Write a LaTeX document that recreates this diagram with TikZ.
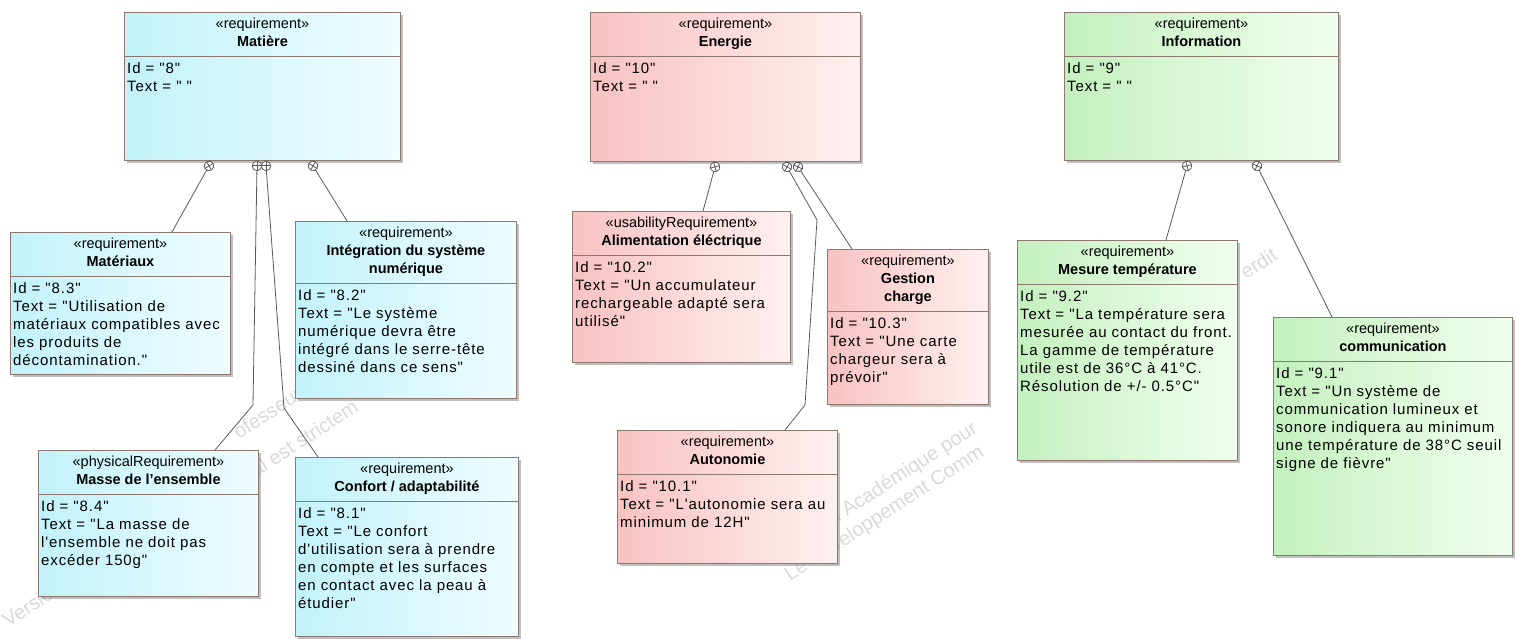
\documentclass[tikz,border=0pt]{standalone}
\usepackage{fontspec}
\setmainfont{Liberation Sans}
\newfontfamily\bodyfont{Liberation Sans}[LetterSpace=6]
\usetikzlibrary{calc,shadows}
\definecolor{cyL}{RGB}{194,242,250}
\definecolor{cyR}{RGB}{238,253,255}
\definecolor{pkL}{RGB}{248,194,194}
\definecolor{pkR}{RGB}{255,240,240}
\definecolor{gnL}{RGB}{196,240,190}
\definecolor{gnR}{RGB}{240,255,238}
\definecolor{bord}{RGB}{140,120,110}
\definecolor{lnc}{RGB}{90,90,90}
\tikzset{
  req/.style={draw=bord, line width=0.9pt, inner sep=0pt,
    drop shadow={shadow xshift=3pt, shadow yshift=-3pt, fill=black!50, opacity=0.5}},
  reqcyan/.style={req, left color=cyL, right color=cyR},
  reqpink/.style={req, left color=pkL, right color=pkR},
  reqgreen/.style={req, left color=gnL, right color=gnR},
  bordline/.style={draw=bord, line width=0.9pt},
  head/.style={align=center, inner sep=0pt, font=\fontsize{14.5}{18}\selectfont},
  body/.style={align=left, inner sep=0pt, font=\bodyfont\fontsize{15}{18}\selectfont},
  conn/.style={draw=lnc, line width=0.8pt},
  wm/.style={text=black!15, font=\fontsize{20}{24}\selectfont, rotate=33, inner sep=0pt, anchor=base west},
  contain/.pic={
    \draw[conn, fill=white] (0,0) circle[radius=4.8pt];
    \draw[conn] (-4.8pt,0) -- (4.8pt,0) (0,-4.8pt) -- (0,4.8pt);
  }
}
% #1 name, #2 style, #3 top-left, #4 width, #5 height, #6 separator offset, #7 stereotype, #8 title, #9 body
\newcommand{\reqbox}[9]{%
  \node[#2, minimum width=#4, minimum height=#5, anchor=north west] (#1) at (#3) {};
  \draw[bordline] ($(#1.north west)+(0,#6)$) -- ($(#1.north east)+(0,#6)$);
  \node[head, anchor=north] (#1-h) at ($(#1.north)+(0,5.5)$) {#7\\#8};
  \node[body, anchor=north west] (#1-b) at ($(#1.north west)+(3,#6+6)$) {#9};
}
\begin{document}
\begin{tikzpicture}[x=1pt,y=-1pt]
\fill[white] (0,0) rectangle (1522,639);
\useasboundingbox (0,0) rectangle (1522,639);

% watermark fragments (faint, behind the boxes)
\node[wm] (w1) at (8,628) {Versio};
\node[wm] (w2) at (239,440) {ofesseur};
\node[wm] (w3) at (256,478) {al est strictem};
\node[wm] (w4) at (833,526) {n Académique pour};
\node[wm] (w5) at (790,582) {Le Développement Comm};
\node[wm] (w6) at (1246,280) {erdit};

% Matière group
\reqbox{mat}{reqcyan}{124,12}{276pt}{148pt}{44}{«requirement»}{\textbf{Matière}}{Id = "8"\\Text = "\ "}
\reqbox{matx}{reqcyan}{10,232}{220pt}{142pt}{44}{«requirement»}{\textbf{Matériaux}}%
  {Id = "8.3"\\Text = "Utilisation de\\matériaux compatibles avec\\les produits de\\décontamination."}
\reqbox{integ}{reqcyan}{295,221}{221pt}{177pt}{62}{«requirement»}{\textbf{Intégration du système}\\\textbf{numérique}}%
  {Id = "8.2"\\Text = "Le système\\numérique devra être\\intégré dans le serre-tête\\dessiné dans ce sens"}
\reqbox{masse}{reqcyan}{38,450}{220pt}{146pt}{44}{«physicalRequirement»}{\textbf{Masse de l'ensemble}}%
  {Id = "8.4"\\Text = "La masse de\\l'ensemble ne doit pas\\excéder 150g"}
\reqbox{conf}{reqcyan}{295,457}{223pt}{179pt}{44}{«requirement»}{\textbf{Confort / adaptabilité}}%
  {Id = "8.1"\\Text = "Le confort\\d'utilisation sera à prendre\\en compte et les surfaces\\en contact avec la peau à\\étudier"}

% Energie group
\reqbox{ener}{reqpink}{590,12}{270pt}{149pt}{44}{«requirement»}{\textbf{Energie}}{Id = "10"\\Text = "\ "}
\reqbox{alim}{reqpink}{572,211}{218pt}{151pt}{44}{«usabilityRequirement»}{\textbf{Alimentation éléctrique}}%
  {Id = "10.2"\\Text = "Un accumulateur\\rechargeable adapté sera\\utilisé"}
\reqbox{gest}{reqpink}{827,249}{161pt}{155pt}{62}{«requirement»}{\textbf{Gestion}\\\textbf{charge}}%
  {Id = "10.3"\\Text = "Une carte\\chargeur sera à\\prévoir"}
\reqbox{auto}{reqpink}{617,430}{220pt}{133pt}{44}{«requirement»}{\textbf{Autonomie}}%
  {Id = "10.1"\\Text = "L'autonomie sera au\\minimum de 12H"}

% Information group
\reqbox{info}{reqgreen}{1064,12}{274pt}{148pt}{44}{«requirement»}{\textbf{Information}}{Id = "9"\\Text = "\ "}
\reqbox{mes}{reqgreen}{1017,240}{220pt}{220pt}{44}{«requirement»}{\textbf{Mesure température}}%
  {Id = "9.2"\\Text = "La température sera\\mesurée au contact du front.\\La gamme de température\\utile est de 36°C à 41°C.\\Résolution de +/- 0.5°C"}
\reqbox{comm}{reqgreen}{1273,317}{239pt}{238pt}{44}{«requirement»}{\textbf{communication}}%
  {Id = "9.1"\\Text = "Un système de\\communication lumineux et\\sonore indiquera au minimum\\une température de 38°C seuil\\signe de fièvre"}

% containment points and bends
\coordinate (c1) at ($(mat.south west)+(85,5)$);
\coordinate (c2) at ($(mat.south west)+(133,5)$);
\coordinate (c3) at ($(mat.south west)+(142,5)$);
\coordinate (c4) at ($(mat.south west)+(189,5)$);
\coordinate (b2) at (253,405);
\coordinate (b3) at (284,408);
\coordinate (c5) at ($(ener.south west)+(125,5)$);
\coordinate (c6) at ($(ener.south west)+(197,5)$);
\coordinate (c7) at ($(ener.south west)+(208,5)$);
\coordinate (b6a) at (817,220);
\coordinate (b6b) at (805,405);
\coordinate (c8) at ($(info.south west)+(123,5)$);
\coordinate (c9) at ($(info.south west)+(193,5)$);

\draw[conn] (c1) -- ($(matx.north west)+(162,0)$);
\draw[conn] (c2) -- (b2) -- ($(masse.north west)+(177,0)$);
\draw[conn] (c3) -- (b3) -- ($(conf.north west)+(23,0)$);
\draw[conn] (c4) -- ($(integ.north west)+(52,0)$);
\draw[conn] (c5) -- ($(alim.north west)+(131,0)$);
\draw[conn] (c6) -- (b6a) -- (b6b) -- ($(auto.north west)+(168,0)$);
\draw[conn] (c7) -- ($(gest.north west)+(25,0)$);
\draw[conn] (c8) -- ($(mes.north west)+(149,0)$);
\draw[conn] (c9) -- ($(comm.north west)+(59,0)$);

\pic[rotate=30] at (c1) {contain};
\pic[rotate=0] at (c2) {contain};
\pic[rotate=0] at (c3) {contain};
\pic[rotate=-30] at (c4) {contain};
\pic[rotate=15] at (c5) {contain};
\pic[rotate=-30] at (c6) {contain};
\pic[rotate=-25] at (c7) {contain};
\pic[rotate=15] at (c8) {contain};
\pic[rotate=-25] at (c9) {contain};
\end{tikzpicture}
\end{document}
